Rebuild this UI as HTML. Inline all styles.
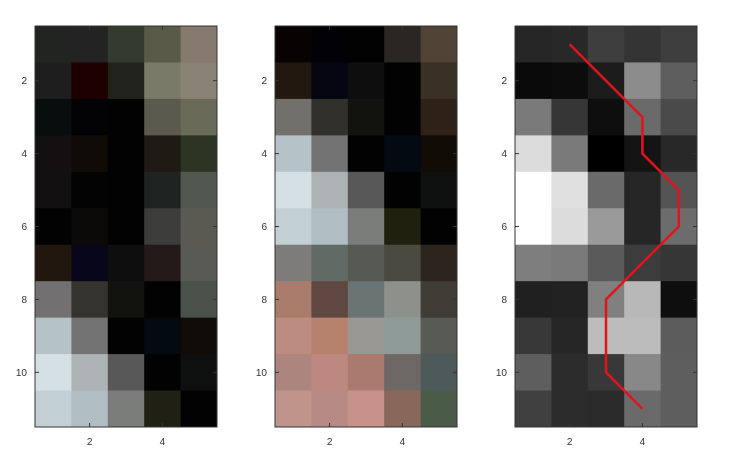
<!DOCTYPE html>
<html><head><meta charset="utf-8"><style>
html,body{margin:0;padding:0;background:#fff;width:743px;height:468px;overflow:hidden}
svg{display:block}
text{font-family:"Liberation Sans",sans-serif;font-size:10px;fill:#333}
</style></head><body>
<svg id="chart" width="743" height="468" xmlns="http://www.w3.org/2000/svg"></svg>
<script>
const panel1Colors = [
["#222422","#232323","#353a30","#5a5a48","#857a6d"],
["#1e1e1e","#1e0000","#22221c","#7a7a68","#8a8275"],
["#080d0d","#030306","#020202","#5a5a4e","#6a6a58"],
["#140f10","#100b06","#020202","#201a14","#2e3424"],
["#121010","#030303","#020202","#1f2322","#505850"],
["#020202","#0c0a08","#020202","#3c3c3a","#5a5a52"],
["#22170e","#08061a","#0e0e0e","#241a1a","#5a5a55"],
["#727070","#35332e","#12120e","#020202","#4a504a"],
["#b5c2c8","#727272","#020202","#040a12","#120c08"],
["#d5e0e5","#adb3b5","#585858","#020202","#0e100f"],
["#c2d0d6","#b0bec4","#7a7c7a","#202014","#020202"]];
const panel2Colors = [
["#080202","#020206","#020202","#2a2622","#504234"],
["#221810","#060612","#0e0e0e","#020202","#3a3024"],
["#72706a","#32302a","#12120e","#020202","#2e2218"],
["#b5c2c8","#727272","#020202","#040a12","#120c06"],
["#d5e0e5","#adb3b5","#585858","#020202","#0e100f"],
["#c2d0d6","#b0bec4","#7a7c7a","#20200f","#020202"],
["#7e7c7a","#626a66","#565a52","#4a4a40","#2e241e"],
["#aa7c6c","#5e4840","#6a7472","#8e908c","#403c36"],
["#bc8c80","#b6826e","#999894","#8e9a98","#585a54"],
["#ac867e","#bc8880","#aa7a6e","#6e6864","#4e5a5a"],
["#c0948a","#b88a86","#c6928a","#88685a","#4a5c48"]];
const panel3Gray = [
[38,40,62,52,62],
[10,12,28,140,94],
[122,54,14,106,74],
[220,122,0,20,40],
[255,224,106,38,84],
[255,220,154,38,108],
[126,122,90,60,54],
[32,34,128,184,14],
[56,38,188,188,92],
[94,44,56,136,94],
[64,44,42,106,94]];
const pathX = [2,4,4,5,5,3,3,4];
const pathY = [1,3,4,5,6,8,10,11];
const xTicks = [2,4];
const yTicks = [2,4,6,8,10];

const NS="http://www.w3.org/2000/svg";
const svg=document.getElementById('chart');
function mk(tag,attrs,parent){const e=document.createElementNS(NS,tag);for(const k in attrs)e.setAttribute(k,attrs[k]);(parent||svg).appendChild(e);return e;}
const top0=26,H=401,W=182;
const panelLefts=[35,275,515];
function sx(l,v){return l+(v-0.5)/5*W;}
function sy(v){return top0+(v-0.5)/11*H;}
function drawPanel(idx,colorAt){
  const l=panelLefts[idx];
  const g=mk('g',{});
  
  
  for(let r=0;r<11;r++)for(let c=0;c<5;c++){
    const x0=sx(l,c+0.5),x1=sx(l,c+1.5),y0=sy(r+0.5),y1=sy(r+1.5);
    const rc=mk('rect',{x:x0,y:y0,width:x1-x0+0.4,height:y1-y0+0.4,fill:colorAt(r,c)},g);
    
    
  }
  const fr=mk('rect',{x:l,y:top0,width:W,height:H,fill:'none',stroke:'#333','stroke-width':1},g);
  
  
  xTicks.forEach(t=>{const x=sx(l,t);
    mk('line',{x1:x,x2:x,y1:top0+H,y2:top0+H-4,stroke:'#333'},g);
    mk('line',{x1:x,x2:x,y1:top0,y2:top0+4,stroke:'#333'},g);
    const tx=mk('text',{x:x,y:top0+H+18,'text-anchor':'middle'},g);tx.textContent=t;
    
    });
  yTicks.forEach(t=>{const y=sy(t);
    mk('line',{x1:l,x2:l+4,y1:y,y2:y,stroke:'#333'},g);
    mk('line',{x1:l+W,x2:l+W-4,y1:y,y2:y,stroke:'#333'},g);
    const tx=mk('text',{x:l-8,y:y+3.5,'text-anchor':'end'},g);tx.textContent=t;
    
    });
  return g;
}
drawPanel(0,(r,c)=>panel1Colors[r][c]);
drawPanel(1,(r,c)=>panel2Colors[r][c]);
const g3=drawPanel(2,(r,c)=>{const v=panel3Gray[r][c];return 'rgb('+v+','+v+','+v+')';});
const pts=pathX.map((x,i)=>sx(panelLefts[2],x)+','+sy(pathY[i])).join(' ');
const pl=mk('polyline',{points:pts,fill:'none',stroke:'#e0141c','stroke-width':2.5,'stroke-linejoin':'miter'},g3);


</script>
</body></html>
